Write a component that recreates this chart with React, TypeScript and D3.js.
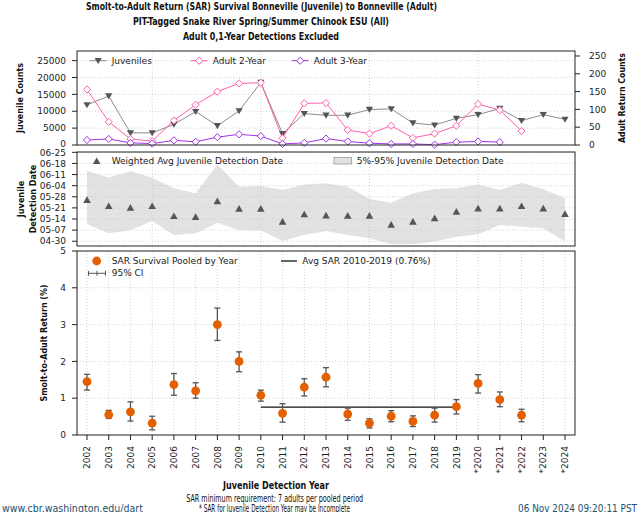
import React from "react";
import * as d3 from "d3";

const years = [2002, 2003, 2004, 2005, 2006, 2007, 2008, 2009, 2010, 2011, 2012, 2013, 2014, 2015, 2016, 2017, 2018, 2019, 2020, 2021, 2022, 2023, 2024];
const yearLabels = ["2002", "2003", "2004", "2005", "2006", "2007", "2008", "2009", "2010", "2011", "2012", "2013", "2014", "2015", "2016", "2017", "2018", "2019", "*2020", "*2021", "*2022", "*2023", "*2024"];

const juveniles = [11900, 14500, 3600, 3600, 6100, 9900, 5700, 10100, 18500, 3350, 9300, 8800, 8800, 10500, 10700, 6500, 5900, 7900, 9000, 10800, 7200, 9000, 7600];
const adult2Year = [156, 65, 17, 11, 69, 113, 150, 173, 175, 19, 117, 118, 42, 32, 54, 20, 32, 54, 115, 98, 39];
const adult3Year = [14, 17, 6, 4, 13, 9, 22, 30, 25, 3, 6, 18, 10, 5, 3, 3, 1, 8, 10, 8];

// day-of-year values (non-leap year)
const wavgDay = [146, 142.2, 141.1, 142.2, 135.9, 135.3, 145.2, 140.5, 140.5, 132.3, 137, 136.3, 136.1, 136.1, 130.4, 132.3, 134.5, 138.6, 140.7, 140.7, 142.2, 140.7, 137.2];
const p95Day = [164.2, 160.2, 164, 160, 153.3, 150.2, 168.4, 154.3, 154.8, 152.3, 155.8, 156.5, 154.3, 146.6, 144.3, 150.2, 152.9, 153.3, 155.8, 152.3, 156.9, 152.7, 147];
const p05Day = [130.9, 125, 126.9, 132.8, 124, 125, 131.7, 126.9, 126.9, 120.2, 124, 126.5, 124, 121.9, 118.1, 118.1, 119.8, 122.9, 124.4, 130.3, 129.2, 128.2, 119.8];
const dateTicks = [120, 127, 134, 141, 148, 155, 162, 169, 176];

const sar = [1.45, 0.55, 0.63, 0.32, 1.37, 1.2, 3.0, 2.0, 1.08, 0.59, 1.3, 1.57, 0.57, 0.32, 0.51, 0.37, 0.54, 0.77, 1.4, 0.96, 0.54];
const sarLo = [1.22, 0.45, 0.38, 0.14, 1.08, 1.0, 2.57, 1.72, 0.92, 0.35, 1.06, 1.31, 0.4, 0.19, 0.36, 0.23, 0.35, 0.57, 1.14, 0.77, 0.36];
const sarHi = [1.65, 0.67, 0.9, 0.51, 1.67, 1.42, 3.45, 2.26, 1.22, 0.85, 1.53, 1.83, 0.73, 0.44, 0.66, 0.52, 0.73, 0.96, 1.64, 1.17, 0.7];
const avgSar = 0.76;
const avgYears = [2010, 2019];

const leftTicks = [0, 5000, 10000, 15000, 20000, 25000];
const rightTicks = [0, 50, 100, 150, 200, 250];
const sarTicks = [0, 1, 2, 3, 4, 5];
const coarseYearGrid = [2005, 2010, 2015, 2020];

const FONT = "'DejaVu Sans', sans-serif";
const COND = "'DejaVu Sans Condensed', 'DejaVu Sans', sans-serif";

const L = 77, R = 575;
const top1 = 51, bot1 = 145;
const top2 = 152, bot2 = 246;
const top3 = 251, bot3 = 435;

const GRID = "#c8c8c8";
const PINK = "#ff5fb0";
const PURPLE = "#a232e6";
const ORANGE = "#e35f00";

export default function App() {
  const x = d3.scaleLinear().domain([2001.54, 2024.46]).range([L, R]);
  const yL = d3.scaleLinear().domain([0, 27850]).range([bot1, top1]);
  const yR = d3.scaleLinear().domain([0, 264]).range([bot1, top1]);
  const yM = d3.scaleLinear().domain([117, 176.2]).range([bot2, top2]);
  const yB = d3.scaleLinear().domain([0, 5]).range([bot3, top3]);
  const fmtDate = d3.timeFormat("%m-%d");
  const dayLabel = (d: number) => fmtDate(new Date(2023, 0, d));

  const juvLine = d3.line<number>().x((_, i) => x(years[i])).y((d) => yL(d))(juveniles) || "";
  const a2Line = d3.line<number>().x((_, i) => x(years[i])).y((d) => yR(d))(adult2Year) || "";
  const a3Line = d3.line<number>().x((_, i) => x(years[i])).y((d) => yR(d))(adult3Year) || "";
  const band = d3
    .area<number>()
    .x((_, i) => x(years[i]))
    .y0((_, i) => yM(p05Day[i]))
    .y1((d) => yM(d))(p95Day) || "";

  const triDown = (cx: number, cy: number, s = 3.6) =>
    `M${cx - s},${cy - s * 0.75}L${cx + s},${cy - s * 0.75}L${cx},${cy + s * 0.95}Z`;
  const triUp = (cx: number, cy: number, s = 3.8) =>
    `M${cx - s},${cy + s * 0.8}L${cx + s},${cy + s * 0.8}L${cx},${cy - s * 0.95}Z`;
  const diamond = (cx: number, cy: number, s = 3.6) =>
    `M${cx},${cy - s}L${cx + s},${cy}L${cx},${cy + s}L${cx - s},${cy}Z`;

  const hGrid = (vals: number[], scale: (v: number) => number, key: string) =>
    vals.map((v) => (
      <line key={key + v} x1={L} x2={R} y1={scale(v)} y2={scale(v)} stroke={GRID} strokeWidth={0.8} strokeDasharray="1,2" />
    ));
  const vGrid = (vals: number[], y1: number, y2: number, key: string) =>
    vals.map((v) => (
      <line key={key + v} x1={x(v)} x2={x(v)} y1={y1} y2={y2} stroke={GRID} strokeWidth={0.8} strokeDasharray="1,2" />
    ));

  const legendCols = [
    { label: "Juveniles", tx: 111.7, kind: "juv" },
    { label: "Adult 2-Year", tx: 212.7, kind: "a2" },
    { label: "Adult 3-Year", tx: 313.7, kind: "a3" },
  ];

  return (
    <svg width={640} height={512} style={{ position: "absolute", left: 0, top: 0, background: "#fff" }} fontFamily={FONT}>
      <rect x={0} y={0} width={640} height={512} fill="#fff" />
      {/* Titles */}
      <g fontFamily={COND} fontWeight="bold" fontSize={10.2} textAnchor="middle" fill="#111" style={{ fontStretch: "condensed" }}>
        <text x={261.5} y={9.5} textLength={351} lengthAdjust="spacingAndGlyphs">Smolt-to-Adult Return (SAR) Survival Bonneville (Juvenile) to Bonneville (Adult)</text>
        <text x={261} y={24.8} textLength={256} lengthAdjust="spacingAndGlyphs">PIT-Tagged Snake River Spring/Summer Chinook ESU (All)</text>
        <text x={261} y={40.2} textLength={156} lengthAdjust="spacingAndGlyphs">Adult 0,1-Year Detections Excluded</text>
      </g>

      {/* ===== Panel 1 ===== */}
      {hGrid(leftTicks.slice(1), yL, "g1h")}
      {vGrid(coarseYearGrid, top1, bot1, "g1v")}
      <path d={juvLine} fill="none" stroke="#8c8c8c" strokeWidth={1} />
      <path d={a2Line} fill="none" stroke={PINK} strokeWidth={1} />
      <path d={a3Line} fill="none" stroke={PURPLE} strokeWidth={1} />
      {juveniles.map((v, i) => (
        <path key={"jm" + i} d={triDown(x(years[i]), yL(v))} fill="#555" />
      ))}
      {adult2Year.map((v, i) => (
        <path key={"a2m" + i} d={diamond(x(years[i]), yR(v))} fill="#fff" stroke={PINK} strokeWidth={1} />
      ))}
      {adult3Year.map((v, i) => (
        <path key={"a3m" + i} d={diamond(x(years[i]), yR(v))} fill="#fff" stroke={PURPLE} strokeWidth={1} />
      ))}
      <rect x={L} y={top1} width={R - L} height={bot1 - top1} fill="none" stroke="#222" strokeWidth={1} />
      {leftTicks.map((t) => (
        <g key={"lt" + t}>
          <line x1={L - 5} x2={L} y1={yL(t)} y2={yL(t)} stroke="#222" />
          <text x={L - 11} y={t === 0 ? yL(t) - 1 : yL(t)} dy="0.35em" textAnchor="end" fontSize={9} fill="#222">{t}</text>
        </g>
      ))}
      {rightTicks.map((t) => (
        <g key={"rt" + t}>
          <line x1={R} x2={R + 5} y1={yR(t)} y2={yR(t)} stroke="#222" />
          <text x={R + 14} y={yR(t)} dy="0.35em" textAnchor="start" fontSize={9} fill="#222">{t}</text>
        </g>
      ))}
      {legendCols.map((c) => {
        const cy = 60.7;
        const mx = c.tx - 13.5;
        const col = c.kind === "juv" ? "#8c8c8c" : c.kind === "a2" ? PINK : PURPLE;
        return (
          <g key={c.label}>
            <line x1={c.tx - 22} x2={c.tx - 5} y1={cy} y2={cy} stroke={col} strokeWidth={1} />
            {c.kind === "juv" ? (
              <path d={triDown(mx, cy)} fill="#555" />
            ) : (
              <path d={diamond(mx, cy)} fill="#fff" stroke={col} strokeWidth={1} />
            )}
            <text x={c.tx} y={cy} dy="0.35em" fontSize={9} fill="#222">{c.label}</text>
          </g>
        );
      })}
      <text transform={`translate(20,${(top1 + bot1) / 2}) rotate(-90)`} textAnchor="middle" dy="0.35em" fontFamily={COND} fontWeight="bold" fontSize={9} fill="#111" textLength={70} lengthAdjust="spacingAndGlyphs">Juvenile Counts</text>
      <text transform={`translate(621.5,${(top1 + bot1) / 2}) rotate(-90)`} textAnchor="middle" dy="0.35em" fontFamily={COND} fontWeight="bold" fontSize={9} fill="#111" textLength={90} lengthAdjust="spacingAndGlyphs">Adult Return Counts</text>

      {/* ===== Panel 2 ===== */}
      <path d={band} fill="#e2e2e2" stroke="none" />
      {hGrid(dateTicks, yM, "g2h")}
      {vGrid(coarseYearGrid, top2, bot2, "g2v")}
      {wavgDay.map((v, i) => (
        <path key={"wa" + i} d={triUp(x(years[i]), yM(v))} fill="#555" />
      ))}
      <rect x={L} y={top2} width={R - L} height={bot2 - top2} fill="none" stroke="#222" strokeWidth={1} />
      {dateTicks.map((t) => (
        <g key={"dt" + t}>
          <line x1={L - 5} x2={L} y1={yM(t)} y2={yM(t)} stroke="#222" />
          <text x={L - 11} y={t === 176 ? yM(t) + 0.8 : yM(t)} dy="0.35em" textAnchor="end" fontSize={9} fill="#222">{dayLabel(t)}</text>
        </g>
      ))}
      <path d={triUp(96.7, 161)} fill="#555" />
      <text x={111.7} y={161} dy="0.35em" fontSize={9} fill="#222">Weighted Avg Juvenile Detection Date</text>
      <rect x={334} y={157.5} width={17.5} height={6.5} fill="#e2e2e2" stroke="#999" strokeWidth={0.8} />
      <text x={356.7} y={161} dy="0.35em" fontSize={9} fill="#222">5%-95% Juvenile Detection Date</text>
      <g fontFamily={COND} fontWeight="bold" fontSize={9} fill="#111" textAnchor="middle">
        <text transform={`translate(20.5,${(top2 + bot2) / 2}) rotate(-90)`} dy="0.35em">Juvenile</text>
        <text transform={`translate(32.5,${(top2 + bot2) / 2}) rotate(-90)`} dy="0.35em">Detection Date</text>
      </g>

      {/* ===== Panel 3 ===== */}
      {hGrid(sarTicks.slice(1, 5), yB, "g3h")}
      {vGrid(years, top3, bot3, "g3v")}
      <line x1={x(avgYears[0])} x2={x(avgYears[1])} y1={yB(avgSar)} y2={yB(avgSar)} stroke="#111" strokeWidth={1.3} />
      {sar.map((v, i) => {
        const cx = x(years[i]);
        return (
          <g key={"s" + i}>
            <line x1={cx} x2={cx} y1={yB(sarLo[i])} y2={yB(sarHi[i])} stroke="#555" strokeWidth={1.3} />
            <line x1={cx - 3} x2={cx + 3} y1={yB(sarLo[i])} y2={yB(sarLo[i])} stroke="#555" strokeWidth={1.3} />
            <line x1={cx - 3} x2={cx + 3} y1={yB(sarHi[i])} y2={yB(sarHi[i])} stroke="#555" strokeWidth={1.3} />
            <circle cx={cx} cy={yB(v)} r={4.4} fill={ORANGE} />
          </g>
        );
      })}
      <rect x={L} y={top3} width={R - L} height={bot3 - top3} fill="none" stroke="#222" strokeWidth={1} />
      {sarTicks.map((t) => (
        <g key={"st" + t}>
          <line x1={L - 5} x2={L} y1={yB(t)} y2={yB(t)} stroke="#222" />
          <text x={L - 11} y={yB(t)} dy="0.35em" textAnchor="end" fontSize={9} fill="#222">{t}</text>
        </g>
      ))}
      {years.map((yr, i) => (
        <g key={"xt" + yr}>
          <line x1={x(yr)} x2={x(yr)} y1={bot3} y2={bot3 + 5} stroke="#222" />
          <text transform={`translate(${x(yr)},${bot3 + 11}) rotate(-90)`} textAnchor="end" dy="0.35em" fontSize={9} fill="#222">{yearLabels[i]}</text>
        </g>
      ))}
      <circle cx={96.7} cy={261} r={4.4} fill={ORANGE} />
      <text x={111.7} y={261} dy="0.35em" fontSize={9} fill="#222">SAR Survival Pooled by Year</text>
      <g stroke="#555" strokeWidth={1}>
        <line x1={88.5} x2={105.5} y1={273.3} y2={273.3} />
        <line x1={88.5} x2={88.5} y1={270.8} y2={275.8} />
        <line x1={105.5} x2={105.5} y1={270.8} y2={275.8} />
        <line x1={97} x2={97} y1={270.8} y2={275.8} />
      </g>
      <text x={111.7} y={273.3} dy="0.35em" fontSize={9} fill="#222">95% CI</text>
      <line x1={281} x2={297} y1={261} y2={261} stroke="#111" strokeWidth={1.3} />
      <text x={302.3} y={261} dy="0.35em" fontSize={9} fill="#222">Avg SAR 2010-2019 (0.76%)</text>
      <text transform={`translate(44,${(top3 + bot3) / 2}) rotate(-90)`} textAnchor="middle" dy="0.35em" fontFamily={COND} fontWeight="bold" fontSize={9} fill="#111" textLength={117} lengthAdjust="spacingAndGlyphs">Smolt-to-Adult Return (%)</text>

      {/* Captions */}
      <g fontFamily={COND} textAnchor="middle" fill="#111">
        <text x={276} y={488.5} fontWeight="bold" fontSize={9.6} textLength={106} lengthAdjust="spacingAndGlyphs">Juvenile Detection Year</text>
        <text x={274.7} y={502} fontSize={9.6} textLength={177} lengthAdjust="spacingAndGlyphs">SAR minimum requirement: 7 adults per pooled period</text>
        <text x={274.5} y={511.5} fontSize={9.6} textLength={151} lengthAdjust="spacingAndGlyphs">* SAR for Juvenile Detection Year may be Incomplete</text>
      </g>
      <text x={2} y={511.5} fontFamily={FONT} fontSize={9.6} fill="#234f6e" textLength={141} lengthAdjust="spacingAndGlyphs">www.cbr.washington.edu/dart</text>
      <text x={637} y={511.5} fontFamily={FONT} fontSize={9.6} fill="#234f6e" textAnchor="end" textLength={119} lengthAdjust="spacingAndGlyphs">06 Nov 2024 09:20:11 PST</text>
    </svg>
  );
}
